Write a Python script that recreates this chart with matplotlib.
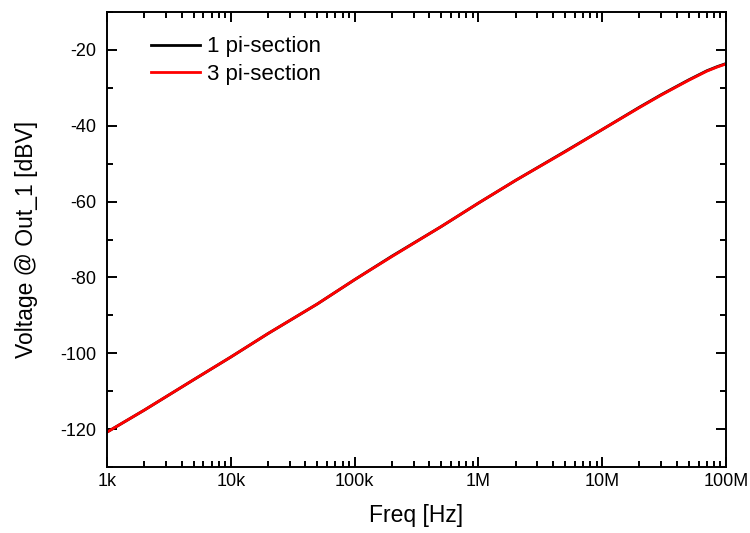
import numpy as np
import matplotlib
matplotlib.use("Agg")
import matplotlib.pyplot as plt
from matplotlib.ticker import LogLocator, MultipleLocator, NullFormatter

plt.rcParams['font.family'] = ['Liberation Sans', 'DejaVu Sans']
plt.rcParams['axes.unicode_minus'] = False

# Data (Hz, dBV)
freq = [1e3, 2e3, 5e3, 1e4, 2e4, 5e4, 1e5, 2e5, 5e5, 1e6, 2e6, 5e6,
        1e7, 2e7, 3e7, 4e7, 5e7, 6e7, 7e7, 8.5e7, 1e8]
v_1pi = [-120.8, -115.0, -107.0, -101.0, -94.8, -87.0, -80.6, -74.4, -66.6,
         -60.4, -54.4, -46.8, -41.0, -35.1, -31.8, -29.6, -27.9, -26.6,
         -25.5, -24.4, -23.6]
v_3pi = [-120.8, -115.0, -107.0, -101.0, -94.8, -87.0, -80.6, -74.5, -66.6,
         -60.4, -54.4, -46.9, -41.0, -35.2, -31.9, -29.7, -28.0, -26.7,
         -25.6, -24.5, -23.7]

xticks = [1e3, 1e4, 1e5, 1e6, 1e7, 1e8]
xticklabels = ['1k', '10k', '100k', '1M', '10M', '100M']
yticks = [-120, -100, -80, -60, -40, -20]

fig = plt.figure(figsize=(7.5, 5.33), dpi=100)
ax = fig.add_axes([107/750, 1 - 467/533, (726-107)/750, (467-12)/533])

ax.plot(freq, v_1pi, color='black', lw=2.0, label='1 pi-section')
ax.plot(freq, v_3pi, color='red', lw=2.0, label='3 pi-section')

ax.set_xscale('log')
ax.set_xlim(1e3, 1e8)
ax.set_ylim(-130, -10)
ax.set_xticks(xticks)
ax.set_xticklabels(xticklabels)
ax.xaxis.set_minor_locator(LogLocator(base=10, subs=np.arange(2, 10)))
ax.xaxis.set_minor_formatter(NullFormatter())
ax.set_yticks(yticks)
ax.yaxis.set_minor_locator(MultipleLocator(10))

ax.tick_params(which='both', direction='in', top=True, right=True,
               labelsize=13, width=1.4)
ax.tick_params(axis='x', pad=4.5)
ax.tick_params(axis='y', pad=8)
ax.tick_params(which='major', length=7)
ax.tick_params(which='minor', length=4.3)
for s in ax.spines.values():
    s.set_linewidth(1.4)

ax.set_xlabel('Freq [Hz]', fontsize=16.5, labelpad=10)
ax.set_ylabel('Voltage @ Out_1 [dBV]', fontsize=16.5, labelpad=16)

ax.legend(loc='upper left', bbox_to_anchor=(0.057, 0.966), frameon=False,
          fontsize=16, handlelength=2.2, handletextpad=0.3,
          labelspacing=0.3, borderaxespad=0)

fig.savefig('out.png', dpi=100)
